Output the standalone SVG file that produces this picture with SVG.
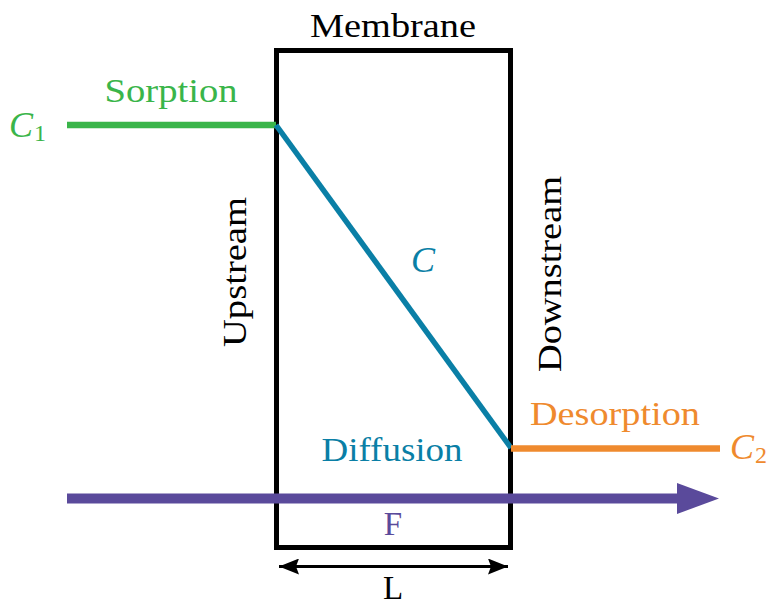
<svg xmlns="http://www.w3.org/2000/svg" width="771" height="606" viewBox="0 0 771 606">
<defs>
  <marker id="ah" viewBox="0 0 20 16" refX="20" refY="8" markerWidth="20" markerHeight="16" markerUnits="userSpaceOnUse" orient="auto-start-reverse">
    <path d="M0,0 L20,8 L0,16 L3,8 Z" fill="#000"/>
  </marker>
</defs>
<style>
  text { font-family: "Liberation Serif", "DejaVu Serif", serif; font-size: 33px; }
  .blk { fill: #000; }
  .grn { fill: #3ab54a; }
  .blu { fill: #0a7fa6; }
  .org { fill: #ef8a2e; }
  .pur { fill: #5a4a9b; }
  .it { font-style: italic; font-size: 36px; }
  .sub { font-size: 24px; }
</style>
<rect width="771" height="606" fill="#fff"/>
<g id="membrane">
  <rect x="276.5" y="50.5" width="234" height="497" fill="none" stroke="#000" stroke-width="5"/>
  <text class="blk" x="393" y="37" text-anchor="middle" textLength="166" lengthAdjust="spacingAndGlyphs">Membrane</text>
</g>
<g id="upstream">
  <text class="blk" transform="translate(246,272) rotate(-90)" text-anchor="middle" textLength="150" lengthAdjust="spacingAndGlyphs">Upstream</text>
</g>
<g id="downstream">
  <text class="blk" transform="translate(561,274) rotate(-90)" text-anchor="middle" textLength="196" lengthAdjust="spacingAndGlyphs">Downstream</text>
</g>
<g id="connectors">
  <line x1="67" y1="125" x2="276" y2="125" stroke="#3ab54a" stroke-width="6.5"/>
  <line x1="276" y1="125" x2="511" y2="448" stroke="#0a7fa6" stroke-width="5.5"/>
  <line x1="511" y1="448.5" x2="720" y2="448.5" stroke="#ef8a2e" stroke-width="6.5"/>
  <line x1="67" y1="498.5" x2="680" y2="498.5" stroke="#5a4a9b" stroke-width="10"/>
  <path d="M677,483 L719,498.5 L677,514 Z" fill="#5a4a9b"/>
  <line x1="279" y1="566.5" x2="508" y2="566.5" stroke="#000" stroke-width="3" marker-start="url(#ah)" marker-end="url(#ah)"/>
</g>
<g id="sorption">
  <text class="grn" x="171" y="102" text-anchor="middle" textLength="133" lengthAdjust="spacingAndGlyphs">Sorption</text>
  <text class="grn it" x="9" y="137">C<tspan class="sub" font-style="normal" dy="4" dx="1">1</tspan></text>
</g>
<g id="diffusion">
  <text class="blu it" x="423" y="272" text-anchor="middle">C</text>
  <text class="blu" x="392" y="461" text-anchor="middle" textLength="141" lengthAdjust="spacingAndGlyphs">Diffusion</text>
</g>
<g id="desorption">
  <text class="org" x="615" y="425" text-anchor="middle" textLength="170" lengthAdjust="spacingAndGlyphs">Desorption</text>
  <text class="org it" x="730" y="459">C<tspan class="sub" font-style="normal" dy="4" dx="1">2</tspan></text>
</g>
<g id="flux">
  <text class="pur" x="393" y="535" text-anchor="middle">F</text>
</g>
<g id="length">
  <text class="blk" x="393" y="599" text-anchor="middle">L</text>
</g>
</svg>
